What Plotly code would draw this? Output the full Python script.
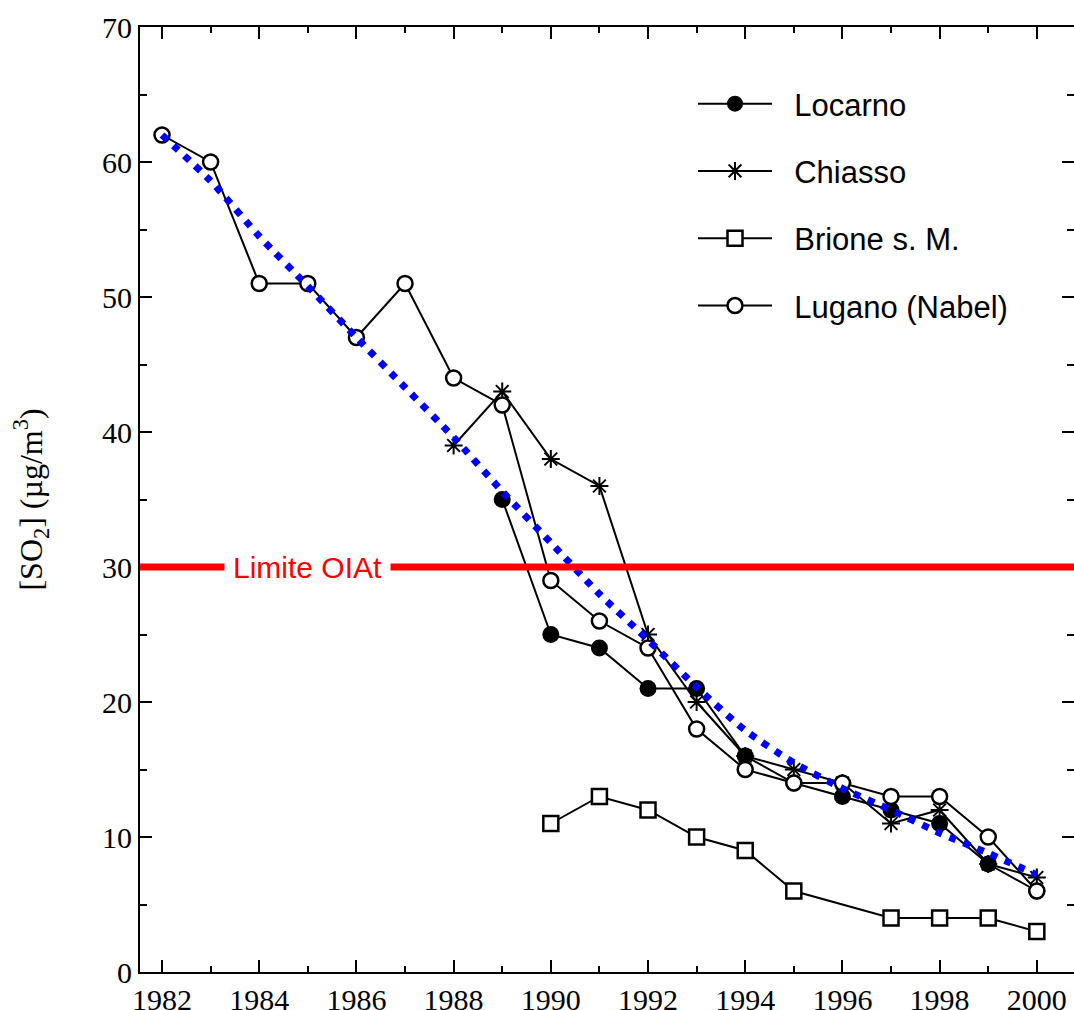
import plotly.graph_objects as go

years = list(range(1982, 2001))

locarno_years = list(range(1989, 2001))
locarno = [35, 25, 24, 21, 21, 16, 14, 13, 12, 11, 8, 6]

chiasso_years = list(range(1988, 2001))
chiasso = [39, 43, 38, 36, 25, 20, 16, 15, 14, 11, 12, 8, 7]

brione_years = [1990, 1991, 1992, 1993, 1994, 1995, 1997, 1998, 1999, 2000]
brione = [11, 13, 12, 10, 9, 6, 4, 4, 4, 3]

lugano_years = list(range(1982, 2001))
lugano = [62, 60, 51, 51, 47, 51, 44, 42, 29, 26, 24, 18, 15, 14, 14, 13, 13, 10, 6]

trend_years = list(range(1982, 2001))
trend = [62.0, 58.6, 54.5, 50.8, 47.0, 43.3, 39.6, 35.6, 31.8, 28.0, 24.6,
         21.1, 17.9, 15.5, 13.6, 12.0, 10.3, 8.8, 7.2]

LIMIT = 30
LIMIT_LABEL = "Limite OIAt"
series_names = ["Locarno", "Chiasso", "Brione s. M.", "Lugano (Nabel)"]
x_ticks = list(range(1982, 2001, 2))
y_ticks = list(range(0, 71, 10))

SERIF = "Liberation Serif, Times New Roman, serif"
SANS = "Liberation Sans, Arial, sans-serif"
PAD = "\u00a0\u00a0"  # gap between legend sample and label

fig = go.Figure()

fig.add_trace(go.Scatter(
    x=locarno_years, y=locarno, name=PAD + series_names[0], mode="lines+markers",
    line=dict(color="black", width=2),
    marker=dict(symbol="circle", size=17, color="black"),
    legendgroup="a"))
fig.add_trace(go.Scatter(
    x=chiasso_years, y=chiasso, name=PAD + series_names[1], mode="lines+markers",
    line=dict(color="black", width=2),
    marker=dict(symbol="asterisk-open", size=15, color="black",
                line=dict(color="black", width=2)),
    legendgroup="b"))
fig.add_trace(go.Scatter(
    x=brione_years, y=brione, name=PAD + series_names[2], mode="lines+markers",
    line=dict(color="black", width=2),
    marker=dict(symbol="square", size=15, color="white",
                line=dict(color="black", width=2.5)),
    legendgroup="c"))
fig.add_trace(go.Scatter(
    x=lugano_years, y=lugano, name=PAD + series_names[3], mode="lines+markers",
    line=dict(color="black", width=2),
    marker=dict(symbol="circle", size=15, color="white",
                line=dict(color="black", width=2.5)),
    legendgroup="d"))
fig.add_trace(go.Scatter(
    x=trend_years, y=trend, mode="lines", showlegend=False,
    line=dict(color="#0000ff", width=7, dash="7px,8px", shape="spline", smoothing=0.6)))

# invisible trace on the right-side axis (ticks only)
fig.add_trace(go.Scatter(x=[years[0]], y=[0], yaxis="y2", mode="markers",
                         marker=dict(opacity=0), showlegend=False, hoverinfo="skip"))

fig.add_shape(type="line", xref="paper", x0=0, x1=1, yref="y", y0=LIMIT, y1=LIMIT,
              line=dict(color="#ff0000", width=7), layer="above")
fig.add_annotation(x=1985, y=LIMIT, text=LIMIT_LABEL, showarrow=False,
                   font=dict(family=SANS, size=30, color="#ff0000"),
                   bgcolor="white", borderpad=8)

axis_common = dict(showline=True, linecolor="black", linewidth=2,
                   ticks="inside", ticklen=12, tickwidth=2, tickcolor="black",
                   showgrid=False, zeroline=False,
                   tickfont=dict(family=SERIF, size=30, color="black"))

fig.update_layout(
    width=1074, height=1010,
    margin=dict(l=140, r=0, t=27, b=38),
    paper_bgcolor="white", plot_bgcolor="white",
    xaxis=dict(range=[1981.547, 2000.765], tickvals=x_ticks, mirror="ticks",
               automargin=False,
               minor=dict(dtick=1, tick0=1982, ticks="inside", ticklen=6,
                          tickwidth=2, tickcolor="black"),
               **axis_common),
    yaxis=dict(range=[0, 70], tickvals=y_ticks,
               minor=dict(dtick=5, tick0=0, ticks="inside", ticklen=7,
                          tickwidth=2, tickcolor="black"),
               title=dict(text="[SO<sub>2</sub>] (µg/m<sup>3</sup>)",
                          font=dict(family=SERIF, size=32, color="black"),
                          standoff=50),
               **axis_common),
    yaxis2=dict(range=[0, 70], overlaying="y", side="right", tickvals=y_ticks,
                showticklabels=False, showline=False, showgrid=False, zeroline=False,
                ticks="inside", ticklen=12, tickwidth=2, tickcolor="black",
                minor=dict(dtick=5, tick0=0, ticks="inside", ticklen=7,
                           tickwidth=2, tickcolor="black")),
    legend=dict(x=(693 - 140) / 934, y=1 - (77 - 27) / 945, xanchor="left", yanchor="top",
                bgcolor="rgba(0,0,0,0)", borderwidth=0,
                font=dict(family=SANS, size=31, color="black"),
                itemwidth=74, tracegroupgap=24, traceorder="grouped"),
    showlegend=True,
)

fig.write_html("out.html")
